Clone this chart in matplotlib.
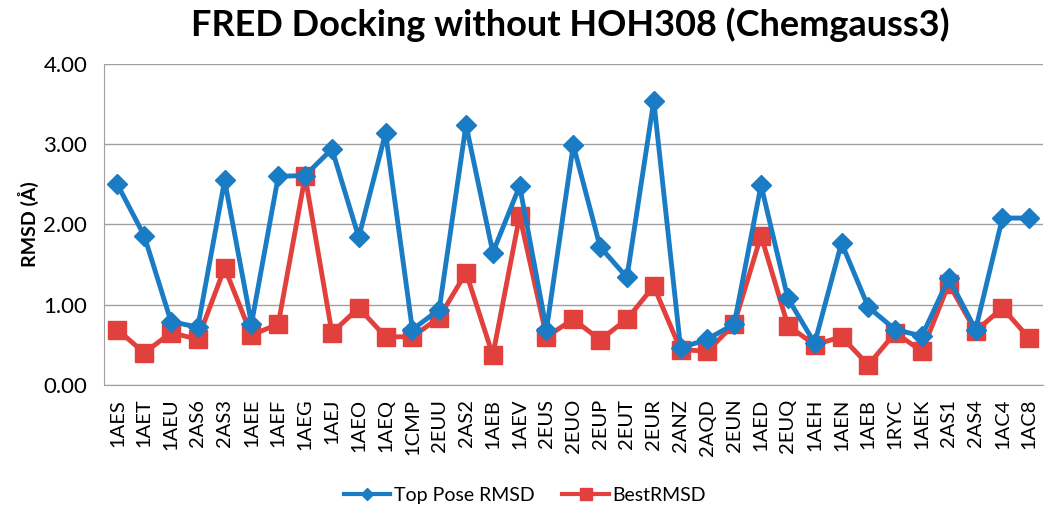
import matplotlib.pyplot as plt
from matplotlib.lines import Line2D

plt.rcParams['font.family'] = ['Lato', 'DejaVu Sans']

labels = ["1AES", "1AET", "1AEU", "2AS6", "2AS3", "1AEE", "1AEF", "1AEG", "1AEJ",
          "1AEO", "1AEQ", "1CMP", "2EUU", "2AS2", "1AEB", "1AEV", "2EUS", "2EUO",
          "2EUP", "2EUT", "2EUR", "2ANZ", "2AQD", "2EUN", "1AED", "2EUQ", "1AEH",
          "1AEN", "1AEB", "1RYC", "1AEK", "2AS1", "2AS4", "1AC4", "1AC8"]

top_pose = [2.50, 1.86, 0.79, 0.72, 2.55, 0.76, 2.60, 2.61, 2.94,
            1.84, 3.14, 0.69, 0.94, 3.24, 1.65, 2.48, 0.69, 2.99,
            1.72, 1.34, 3.54, 0.46, 0.57, 0.76, 2.49, 1.08, 0.52,
            1.77, 0.97, 0.69, 0.61, 1.33, 0.69, 2.08, 2.08]

best = [0.69, 0.40, 0.65, 0.57, 1.46, 0.62, 0.76, 2.60, 0.65,
        0.96, 0.60, 0.60, 0.84, 1.40, 0.37, 2.11, 0.60, 0.82,
        0.56, 0.82, 1.23, 0.44, 0.42, 0.76, 1.86, 0.74, 0.50,
        0.60, 0.25, 0.65, 0.42, 1.26, 0.67, 0.96, 0.58]

blue = '#1a7cc4'
red = '#e2403c'

fig = plt.figure(figsize=(10.5, 5.16), dpi=100)
ax = fig.add_axes([0.099, 0.254, 0.894, 0.622])

x = list(range(len(labels)))
ax.plot(x, top_pose, color=blue, lw=3.5, marker='D', ms=10, zorder=3)
ax.plot(x, best, color=red, lw=3.5, marker='s', ms=13, zorder=2)

ax.set_xlim(-0.5, len(labels) - 0.5)
ax.set_ylim(0, 4)
ax.set_yticks([0, 1, 2, 3, 4])
ax.set_yticklabels(['%.2f' % v for v in [0, 1, 2, 3, 4]], fontsize=16)
ax.set_xticks(x)
ax.set_xticklabels(labels, rotation=90, fontsize=14.5)
ax.tick_params(axis='y', length=0, pad=12)
ax.tick_params(axis='x', length=0, pad=10)
ax.grid(axis='y', color='#a0a0a0', lw=1)
ax.set_axisbelow(True)
for s in ['top', 'right']:
    ax.spines[s].set_visible(False)
for s in ['left', 'bottom']:
    ax.spines[s].set_color('#a0a0a0')

ax.set_ylabel('RMSD (Å)', fontsize=14, fontweight='bold', labelpad=3)
fig.text(0.543, 0.985, 'FRED Docking without HOH308 (Chemgauss3)', fontsize=26,
         fontweight='bold', ha='center', va='top')

handles = [Line2D([], [], color=blue, lw=3, marker='D', ms=6),
           Line2D([], [], color=red, lw=3, marker='s', ms=8)]
fig.legend(handles, ['Top Pose RMSD', 'BestRMSD'], loc='lower center', ncol=2, frameon=False,
           fontsize=14, bbox_to_anchor=(0.5, -0.01), handlelength=2.4,
           handletextpad=0.2, columnspacing=1.4)

fig.savefig('out.png', dpi=100)
